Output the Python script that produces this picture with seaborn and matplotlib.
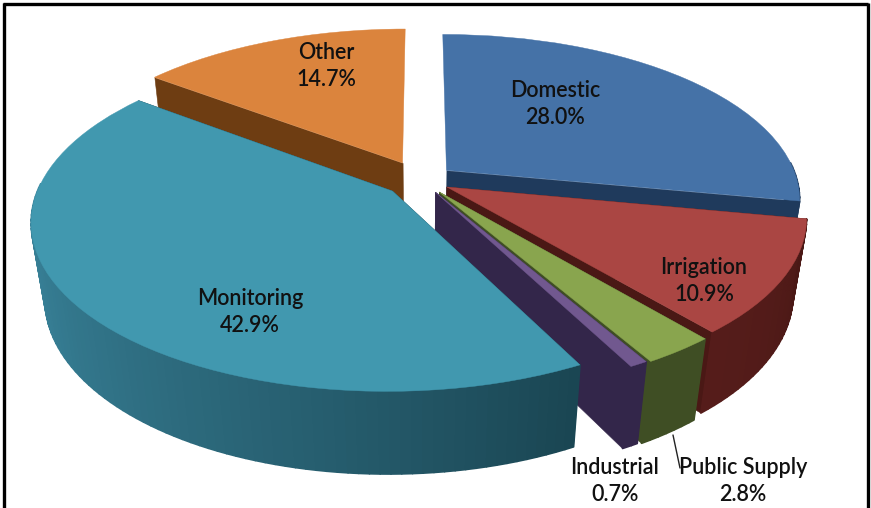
import numpy as np
import matplotlib
matplotlib.use("Agg")
import matplotlib.pyplot as plt
import seaborn as sns
from matplotlib.transforms import Transform
from matplotlib.collections import PolyCollection
from matplotlib.colors import to_rgb

categories = ["Domestic", "Irrigation", "Public Supply", "Industrial", "Monitoring", "Other"]
shares = [28.0, 10.9, 2.8, 0.7, 42.9, 14.7]

top_colors = ["#4572A7", "#AA4643", "#89A54E", "#71588F", "#4198AF", "#DB843D"]
wall_light = ["#1F3A5C", "#551C1A", "#3F4E24", "#33264A", "#3F8FA8", "#6E3D12"]
wall_dark = ["#1F3A5C", "#4A1815", "#3F4E24", "#33264A", "#1A4552", "#6E3D12"]
explode = [0.095, 0.085, 0.09, 0.085, 0.105, 0.12]
draw_order = [0, 5, 1, 2, 3, 4]
label_xy = [(555, 104), (704, 281), (743, 481), (615, 481), (250, 312), (326, 66)]

CX, CY = 421, 180
RX, RY = 351, 162
PERSP, DEPTH, PERSP_Z = 0.17, 78, 0.035


def project(x, y, z=0.0):
    s = 1.0 / (1.0 + PERSP * np.asarray(y) + PERSP_Z * z)
    return CX + RX * np.asarray(x) * s, CY - RY * np.asarray(y) * s + DEPTH * z * s


class Tilt(Transform):
    input_dims = output_dims = 2

    def transform_non_affine(self, values):
        values = np.asarray(values)
        return np.column_stack(project(values[:, 0], values[:, 1]))


sns.set_theme(style="white")
plt.rcParams["font.family"] = ["Lato", "DejaVu Sans"]

fig = plt.figure(figsize=(8.71, 5.08), dpi=100, facecolor="white")
ax = fig.add_axes([0, 0, 1, 1])
wedges, _ = ax.pie(shares, colors=top_colors, explode=explode, startangle=90,
                   counterclock=False, radius=1.0, normalize=True)
ax.set_aspect("auto")
ax.set_xlim(0, 871)
ax.set_ylim(508, 0)
ax.axis("off")
tilt = Tilt()


def shade(a, b, t):
    a, b = np.array(to_rgb(a)), np.array(to_rgb(b))
    return tuple(a + (b - a) * t)


for rank, i in enumerate(draw_order):
    w = wedges[i]
    cx, cy = w.center
    t1, t2 = w.theta1, w.theta2
    z_base = 10 + rank * 3
    cuts = []
    for t in (t1, t2):
        if abs(np.cos(np.radians(t))) < 0.01:  # a cut facing straight back is hidden
            continue
        px, py = cx + np.cos(np.radians(t)), cy + np.sin(np.radians(t))
        cuts.append([project(cx, cy), project(px, py), project(px, py, 1.0), project(cx, cy, 1.0)])
    ax.add_collection(PolyCollection(cuts, facecolors=wall_dark[i], edgecolors="face",
                                     linewidths=0.4, zorder=z_base))
    angles = np.arange(t1, t2 + 1.5, 1.5)
    angles[-1] = t2
    strips, cols = [], []
    for u, v in zip(angles[:-1], angles[1:]):
        if v <= u or np.sin(np.radians(0.5 * (u + v))) > 0.05:  # back of the rim is hidden
            continue
        ux, uy = cx + np.cos(np.radians(u)), cy + np.sin(np.radians(u))
        vx, vy = cx + np.cos(np.radians(v)), cy + np.sin(np.radians(v))
        strips.append([project(ux, uy), project(vx, vy), project(vx, vy, 1.0), project(ux, uy, 1.0)])
        cols.append(shade(wall_light[i], wall_dark[i], ((0.5 * (u + v) - t1) / (t2 - t1)) ** 1.5))
    ax.add_collection(PolyCollection(strips, facecolors=cols, edgecolors="face",
                                     linewidths=1.2, zorder=z_base + 1))
    w.set_transform(tilt + ax.transData)
    w.set_edgecolor(top_colors[i])
    w.set_linewidth(0.3)
    w.set_zorder(z_base + 2)

for name, val, (x, y) in zip(categories, shares, label_xy):
    ax.text(x, y, f"{name}\n{val:.1f}%", ha="center", va="center", fontsize=15.5,
            fontweight="semibold", color="#111111", linespacing=1.33, zorder=50)

ax.plot([673, 680], [435, 468], color="#222222", lw=1.0, zorder=40)

for xs, ys in (([3.5, 3.5], [3, 508]), ([3, 868], [3.5, 3.5]), ([867.5, 867.5], [3, 508])):
    ax.plot(xs, ys, color="black", lw=2.4, zorder=60, solid_capstyle="butt")

fig.savefig("out.png", dpi=100, facecolor="white")
